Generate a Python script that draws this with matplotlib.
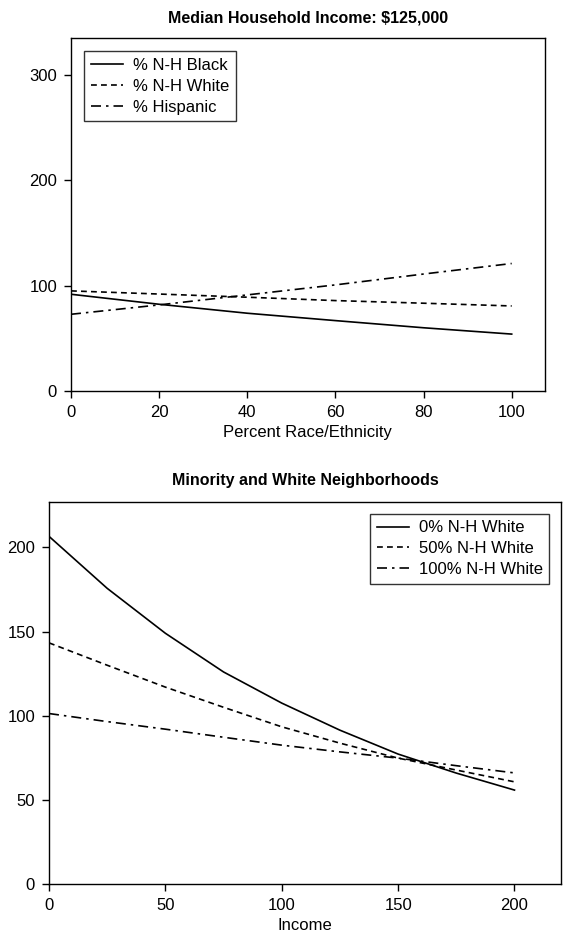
import numpy as np
import matplotlib.pyplot as plt

plt.rcParams['font.family'] = ['Liberation Sans', 'DejaVu Sans']

# top panel: percent race/ethnicity
pct = [0, 20, 40, 60, 80, 100]
black = [91.8, 82.3, 73.8, 66.8, 60.0, 54.0]
white = [95.0, 92.0, 89.0, 85.8, 83.3, 80.7]
hispanic = [72.8, 81.7, 91.2, 100.7, 111.0, 121.0]

# bottom panel: income
income = [0, 25, 50, 75, 100, 125, 150, 175, 200]
white0 = [206.6, 175.7, 149.0, 126.0, 107.5, 91.4, 77.2, 65.9, 55.8]
white50 = [143.3, 130.0, 117.0, 105.0, 93.4, 83.7, 74.8, 67.7, 60.7]
white100 = [101.3, 96.5, 92.0, 87.2, 82.5, 78.5, 74.8, 70.3, 66.0]

dash = (0, (3.5, 2.5))
dashdot = (0, (6, 3, 1.5, 3))

fig = plt.figure(figsize=(5.82, 9.41), dpi=100)

ax1 = fig.add_axes([0.122, 0.5845, 0.814, 0.3751])
ax1.plot(pct, black, color='black', lw=1.2, label='% N-H Black')
ax1.plot(pct, white, color='black', lw=1.2, ls=dash, label='% N-H White')
ax1.plot(pct, hispanic, color='black', lw=1.2, ls=dashdot, label='% Hispanic')
ax1.set_xlim(0, 107.5)
ax1.set_ylim(0, 335)
ax1.set_xticks([0, 20, 40, 60, 80, 100])
ax1.set_yticks([0, 100, 200, 300])
ax1.set_xlabel('Percent Race/Ethnicity', fontsize=12, labelpad=4)
ax1.set_title('Median Household Income: $125,000', fontsize=11.5, fontweight='bold', pad=11)
ax1.legend(loc='upper left', fontsize=12, frameon=True, fancybox=False,
           edgecolor='black', handlelength=1.9, handletextpad=0.6,
           borderaxespad=0.8, labelspacing=0.35)

ax2 = fig.add_axes([0.0842, 0.0606, 0.8798, 0.4059])
ax2.plot(income, white0, color='black', lw=1.2, label='0% N-H White')
ax2.plot(income, white50, color='black', lw=1.2, ls=dash, label='50% N-H White')
ax2.plot(income, white100, color='black', lw=1.2, ls=dashdot, label='100% N-H White')
ax2.set_xlim(0, 220)
ax2.set_ylim(0, 227)
ax2.set_xticks([0, 50, 100, 150, 200])
ax2.set_yticks([0, 50, 100, 150, 200])
ax2.set_xlabel('Income', fontsize=12, labelpad=4)
ax2.set_title('Minority and White Neighborhoods', fontsize=11.5, fontweight='bold', pad=12)
ax2.legend(loc='upper right', fontsize=12, frameon=True, fancybox=False,
           edgecolor='black', handlelength=1.9, handletextpad=0.6,
           borderaxespad=0.7, labelspacing=0.35)

for ax in (ax1, ax2):
    ax.tick_params(direction='out', length=5, width=1, labelsize=12, pad=5, colors='black')
    for s in ax.spines.values():
        s.set_linewidth(1)
    ax.get_legend().get_frame().set_linewidth(1)

fig.savefig('out.png', dpi=100)
